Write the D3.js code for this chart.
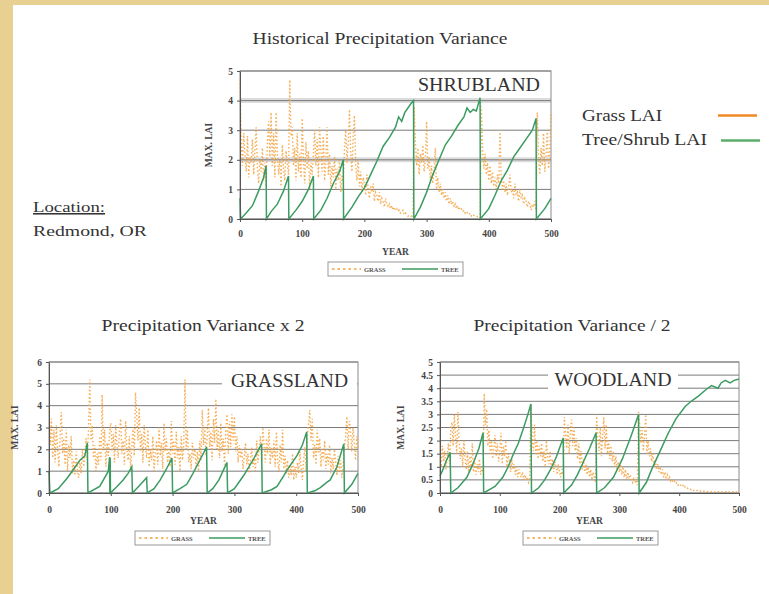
<!DOCTYPE html>
<html><head><meta charset="utf-8">
<script src="https://cdn.jsdelivr.net/npm/d3@7"></script>
<style>body{margin:0;background:#fff}svg{display:block}</style>
</head><body>
<svg id="c" width="769" height="594"></svg>
<script>
// ---------- DATA ----------
const grassYears = d3.range(0, 501, 2);
const xTickValues = [0, 100, 200, 300, 400, 500];

const shrubGrass = [
4.7,2.6,1.8,2.9,2.2,1.6,2.8,1.4,2.1,1.9,2.7,1.5,2.3,3.1,1.7,1.2,2.0,1.6,2.4,1.3,1.9,1.1,2.6,3.3,2.1,
3.6,1.8,2.9,1.4,3.6,2.2,1.5,2.0,1.1,2.5,1.7,1.3,2.3,1.9,1.5,4.7,2.8,3.1,1.8,2.4,1.3,2.9,1.6,2.2,1.4,
3.4,2.0,1.2,2.6,1.7,2.3,1.0,1.9,1.5,2.2,3.0,1.8,2.7,1.4,3.1,2.3,1.6,2.8,1.3,2.0,3.1,1.5,2.2,1.1,1.8,
1.4,2.1,1.0,1.7,1.3,2.0,0.9,1.5,1.2,2.4,3.0,1.9,2.6,3.7,2.2,1.6,2.8,3.5,1.8,1.3,2.0,1.1,1.6,0.9,1.4,
1.2,0.8,1.5,1.0,0.7,1.1,0.9,1.2,0.6,0.9,0.8,0.6,0.9,0.5,0.7,0.6,0.4,0.7,0.5,0.4,0.5,0.35,0.45,0.3,0.4,
0.3,0.35,0.25,0.3,0.2,0.25,0.3,0.15,0.2,0.15,0.1,0.12,0.08,0.1,0.05,3.8,2.6,1.8,2.4,1.5,2.2,1.9,2.5,1.6,2.0,
3.3,1.7,2.1,1.3,1.8,1.2,1.6,2.4,1.0,1.4,0.9,1.2,0.8,1.0,0.7,0.9,0.6,0.8,0.5,0.7,0.5,0.6,0.4,0.5,0.35,
0.45,0.3,0.4,0.35,0.25,0.3,0.2,0.25,0.2,0.15,0.2,0.1,0.15,0.12,0.1,0.1,0.08,0.1,0.05,3.8,2.4,1.7,2.2,1.5,1.9,
1.3,1.8,1.2,1.6,1.1,1.4,1.0,1.5,1.2,3.0,1.4,1.0,1.3,0.9,1.2,0.8,1.1,1.5,0.9,1.0,0.7,1.2,0.8,0.9,0.6,
1.0,0.7,0.8,0.5,0.7,0.6,0.4,0.6,0.5,0.3,0.5,0.4,0.6,0.3,3.6,2.0,1.5,2.4,1.8,2.9,1.6,2.2,3.0,1.7,2.3,
3.6];
const shrubTreeYears  = [0,1,10,20,30,38,42,42.5,50,60,70,78,78.5,90,100,110,118,118.5,130,140,150,160,166,166.5,180,190,200,210,220,230,240,250,255,260,265,270,275,279,279.5,290,300,310,320,330,340,350,360,365,370,375,380,386,386.5,400,410,420,430,440,450,460,470,476,476.5,490,500];
const shrubTreeValues = [0.7,0,0.2,0.45,0.95,1.4,1.8,0,0.25,0.5,0.95,1.45,0,0.3,0.6,1.0,1.45,0,0.3,0.7,1.2,1.6,2.0,0,0.4,0.75,1.05,1.5,1.95,2.45,2.75,3.1,3.45,3.3,3.6,3.75,3.9,4.0,0,0.4,0.9,1.5,2.0,2.5,2.8,3.15,3.45,3.75,3.6,3.7,3.65,4.1,0,0.35,0.8,1.3,1.65,2.1,2.4,2.7,3.0,3.4,0,0.35,0.7];

const grassGrass = [
3.9,2.2,3.4,1.6,2.9,1.4,3.1,2.0,1.2,2.7,3.7,1.8,2.5,1.3,2.9,1.0,2.2,1.6,2.6,0.9,1.5,0.8,1.9,1.1,0.7,
1.4,0.9,2.0,1.2,1.7,2.5,1.5,3.0,5.2,2.4,3.1,1.6,2.2,1.0,1.8,1.3,2.6,1.5,4.5,2.0,2.9,1.2,2.3,1.7,2.8,
3.2,1.9,2.7,1.4,3.1,2.2,1.6,2.9,3.4,1.8,2.4,1.3,3.3,2.0,1.5,2.6,1.1,2.1,3.0,1.7,4.6,3.5,2.4,3.9,1.9,
2.7,1.4,3.1,2.2,1.6,2.9,1.2,2.0,1.5,2.6,1.0,1.8,2.4,1.3,3.0,1.7,2.3,1.1,3.2,1.9,2.5,1.4,2.0,1.2,3.3,
1.8,2.4,1.3,2.8,1.6,2.1,1.0,2.6,1.5,2.2,5.2,2.0,2.9,1.4,1.8,1.1,2.3,1.6,2.0,1.2,1.9,1.0,2.4,1.5,3.8,
2.2,3.0,1.7,2.6,3.9,2.1,2.8,1.5,3.4,2.3,4.3,2.0,2.9,1.6,3.2,1.9,2.5,1.3,2.8,3.6,1.8,3.3,2.1,3.6,2.4,
3.5,1.9,2.6,1.4,2.2,1.6,2.0,1.1,1.7,2.3,1.3,1.8,0.9,1.5,2.1,1.2,1.6,1.0,2.4,1.4,2.0,2.6,1.5,3.0,2.2,
1.4,2.5,1.8,2.9,1.3,2.1,1.6,2.4,1.2,2.8,1.5,1.0,2.2,1.4,2.9,1.1,1.7,0.9,1.5,0.7,1.3,0.8,1.8,0.6,1.2,
0.7,1.4,0.9,1.9,1.1,0.6,1.5,2.1,1.0,2.6,3.2,3.8,2.4,3.4,1.6,2.2,1.3,2.9,1.8,2.5,1.2,2.0,1.5,2.4,1.1,
1.8,1.3,2.2,0.9,1.6,1.1,2.0,1.4,0.8,1.7,1.0,1.5,0.7,1.3,2.1,2.6,3.5,2.0,3.3,2.8,1.9,3.0,2.3,1.5,2.6,
2.0];
const grassTreeYears  = [0,1.5,15,30,40,50,58,62,63,82,92,96,98,98.5,99,99.5,110,120,128,134,135,145,158,159,170,180,190,199,200,212,223,233,244,255,256,265,275,288,289,300,315,330,344,345,360,369,380,385,401,410,417,418,430,439,450,455,466,477,478,490,500];
const grassTreeValues = [1.0,0,0.2,0.7,1.1,1.5,1.7,2.3,0,0.3,0.8,1.0,1.65,0,1.6,0,0.3,0.6,0.9,1.2,0,0.3,0.7,0,0.2,0.6,1.1,1.6,0,0.2,0.4,0.9,1.5,2.1,0,0.2,0.6,1.4,0,0.2,0.8,1.5,2.25,0,0.15,0.3,0.8,1.05,1.7,2.2,2.8,0,0.1,0.25,0.5,0.6,1.2,2.25,0,0.4,0.9];

const woodGrass = [
2.5,1.0,1.8,1.2,1.6,0.9,1.4,1.9,1.1,2.4,2.7,1.8,3.0,2.2,1.5,3.1,2.0,1.3,1.7,1.0,2.0,1.3,0.9,1.6,0.8,
1.4,1.0,1.9,0.8,1.2,0.7,1.1,0.8,1.3,0.7,1.0,0.8,3.8,2.6,3.2,1.8,2.4,1.5,2.0,1.3,1.7,2.2,1.4,1.9,1.2,
1.6,2.3,1.1,1.8,1.4,2.0,1.0,1.5,1.2,0.8,1.3,0.9,1.1,0.7,1.0,0.6,0.9,0.7,0.6,0.8,0.5,0.7,0.5,0.6,0.4,
0.5,3.4,2.2,1.6,2.6,1.5,2.0,1.3,1.8,1.4,1.9,1.2,1.6,1.0,2.0,1.3,1.1,1.6,0.9,1.3,0.8,1.2,1.0,0.7,1.1,
0.8,0.6,0.9,0.7,2.9,2.2,1.7,2.6,1.5,2.3,2.8,1.8,2.5,1.6,2.1,1.3,1.9,1.1,1.6,0.9,1.3,0.8,1.1,0.7,1.0,
0.6,0.9,0.5,0.8,0.6,0.4,3.0,2.1,1.6,2.5,1.4,2.2,2.9,1.7,2.6,1.5,2.0,1.3,1.8,1.2,1.6,1.0,1.4,0.9,1.2,
0.8,1.1,0.7,1.0,0.6,0.9,0.5,0.8,0.6,0.7,0.5,0.4,0.6,0.4,0.5,0.3,3.1,2.6,1.9,2.4,1.6,2.2,3.0,1.5,2.0,
1.4,1.7,1.2,1.5,1.0,1.3,0.9,1.1,0.8,1.0,0.7,0.9,0.6,0.8,0.6,0.7,0.5,0.6,0.45,0.5,0.4,0.45,0.35,0.4,0.3,
0.35,0.3,0.25,0.3,0.2,0.25,0.2,0.18,0.15,0.17,0.12,0.14,0.1,0.12,0.09,0.1,0.08,0.09,0.07,0.08,0.06,0.07,0.06,0.05,0.06,
0.05,0.04,0.05,0.04,0.05,0.04,0.05,0.04,0.05,0.04,0.05,0.04,0.05,0.04,0.05,0.04,0.05,0.04,0.05,0.04,0.05,0.04,0.05,0.04,0.05,
0.05];
const woodTreeYears  = [0,5,10,17,18,30,45,55,65,72,73,92,105,114,122,131,140,147,152,153,165,175,185,195,206,207,220,230,240,250,261,262,275,290,305,320,332,333,345,354,368,382,395,410,420,432,445,454,465,470,477,485,492,500];
const woodTreeValues = [0.65,0.9,1.2,1.55,0,0.2,0.6,1.1,1.7,2.3,0,0.25,0.6,1.0,1.45,1.9,2.5,3.0,3.4,0,0.2,0.5,0.9,1.4,2.1,0,0.3,0.7,1.2,1.7,2.3,0,0.2,0.6,1.3,2.2,3.0,0,0.4,0.9,1.6,2.3,2.85,3.3,3.5,3.7,3.95,4.1,4.0,4.2,4.3,4.2,4.3,4.35];

const shrubYTicks = [0,1,2,3,4,5];
const grassYTicks = [0,1,2,3,4,5,6];
const woodYTicks  = [0,0.5,1,1.5,2,2.5,3,3.5,4,4.5,5];

// ---------- DRAW ----------
const SERIF = "'Liberation Serif','Times New Roman',serif";
const ORANGE = "#f5a03a", GREEN = "#3b9b61";
const svg = d3.select('#c');
svg.append('rect').attr('width',769).attr('height',594).attr('fill','#e8cf92');
svg.append('rect').attr('x',13).attr('y',5).attr('width',756).attr('height',589).attr('fill','#fff');

function wideText(x, y, str, size, width, anchor) {
  return svg.append('text').attr('x', x).attr('y', y).attr('text-anchor', anchor || 'start')
    .attr('font-family', SERIF).attr('font-size', size).attr('fill', '#333')
    .attr('textLength', width).attr('lengthAdjust', 'spacingAndGlyphs').text(str);
}

function drawChart(c) {
  const x = d3.scaleLinear().domain([0,500]).range([c.left, c.right]);
  const y = d3.scaleLinear().domain([0, c.yMax]).range([c.bottom, c.top]);
  const g = svg.append('g');
  wideText(c.titleX, c.titleY, c.title, 16.5, c.titleW, 'middle');
  // grid
  c.yTicks.forEach(t => {
    if (c.bands && c.bands.includes(t)) {
      g.append('line').attr('x1',c.left).attr('x2',c.right).attr('y1',y(t)).attr('y2',y(t))
        .attr('stroke','#dcdcdc').attr('stroke-width',5);
    }
    g.append('line').attr('x1',c.left).attr('x2',c.right).attr('y1',y(t)).attr('y2',y(t))
      .attr('stroke','#7a7a7a').attr('stroke-width',1);
  });
  g.append('rect').attr('x',c.left).attr('y',c.top).attr('width',c.right-c.left).attr('height',c.bottom-c.top)
    .attr('fill','none').attr('stroke','#8a8a8a').attr('stroke-width',1);
  // label box
  g.append('rect').attr('x',c.boxX).attr('y',c.boxY).attr('width',c.boxW).attr('height',c.boxH).attr('fill','#fff');
  g.append('text').attr('x', c.boxX + c.boxW/2).attr('y', c.labelY).attr('text-anchor','middle')
    .attr('font-family', SERIF).attr('font-size', 19).attr('fill','#333')
    .attr('textLength', c.labelW).attr('lengthAdjust','spacingAndGlyphs').text(c.label);
  // series
  const grassLine = d3.line().x((d,i)=>x(grassYears[i])).y(d=>y(d));
  g.append('path').attr('d', grassLine(c.grass)).attr('fill','none').attr('stroke',ORANGE)
    .attr('stroke-width',1.4).attr('stroke-dasharray','1.5,2.2').attr('opacity',0.85);
  const treeLine = d3.line().x((d,i)=>x(c.treeX[i])).y(d=>y(d));
  g.append('path').attr('d', treeLine(c.treeY)).attr('fill','none').attr('stroke',GREEN).attr('stroke-width',1.5);
  // axes
  const ya = g.append('g').attr('transform',`translate(${c.left},0)`)
    .call(d3.axisLeft(y).tickValues(c.yTicks).tickSize(3).tickPadding(4).tickSizeOuter(0).tickFormat(d3.format('')));
  const xa = g.append('g').attr('transform',`translate(0,${c.bottom})`)
    .call(d3.axisBottom(x).tickValues(xTickValues).tickSize(3).tickPadding(c.xPad).tickSizeOuter(0));
  [ya, xa].forEach(a => {
    a.selectAll('path,line').attr('stroke','#555');
    a.selectAll('text').attr('font-family',SERIF).attr('font-size',9.5).attr('font-weight','bold').attr('fill','#444');
  });
  // axis titles
  g.append('text').attr('x',(c.left+c.right)/2).attr('y',c.yearY).attr('text-anchor','middle')
    .attr('font-family',SERIF).attr('font-size',9.5).attr('font-weight','bold').attr('fill','#444').text('YEAR');
  g.append('text').attr('transform',`translate(${c.yTitleX},${(c.top+c.bottom)/2}) rotate(-90)`)
    .attr('text-anchor','middle').attr('font-family',SERIF).attr('font-size',9.5).attr('font-weight','bold')
    .attr('fill','#444').text('MAX. LAI');
  // legend box
  const lx = c.legX, ly = c.legY;
  g.append('rect').attr('x',lx).attr('y',ly).attr('width',135).attr('height',14)
    .attr('fill','#fff').attr('stroke','#999').attr('stroke-width',1);
  g.append('line').attr('x1',lx+4).attr('x2',lx+33).attr('y1',ly+7).attr('y2',ly+7)
    .attr('stroke',ORANGE).attr('stroke-width',1.5).attr('stroke-dasharray','2.5,3');
  g.append('text').attr('x',lx+36).attr('y',ly+9.5).attr('font-family',SERIF).attr('font-size',6.5)
    .attr('font-weight','bold').attr('fill','#555').text('GRASS');
  g.append('line').attr('x1',lx+74).attr('x2',lx+110).attr('y1',ly+7).attr('y2',ly+7)
    .attr('stroke',GREEN).attr('stroke-width',1.3);
  g.append('text').attr('x',lx+113).attr('y',ly+9.5).attr('font-family',SERIF).attr('font-size',6.5)
    .attr('font-weight','bold').attr('fill','#555').text('TREE');
}

drawChart({title:'Historical Precipitation Variance', titleX:380, titleY:44, titleW:255,
  left:240, right:551, top:71, bottom:219, yMax:5, yTicks:shrubYTicks, bands:[2,4],
  label:'SHRUBLAND', labelW:122, boxX:414, boxY:73, boxW:130, boxH:22, labelY:91,
  grass:shrubGrass, treeX:shrubTreeYears, treeY:shrubTreeValues, yTitleX:212, legX:328, legY:262,
  xPad:8, yearY:255});
drawChart({title:'Precipitation Variance x 2', titleX:203, titleY:331, titleW:203,
  left:49, right:358, top:362, bottom:493, yMax:6, yTicks:grassYTicks,
  label:'GRASSLAND', labelW:117, boxX:222, boxY:367, boxW:135, boxH:24, labelY:387,
  grass:grassGrass, treeX:grassTreeYears, treeY:grassTreeValues, yTitleX:18, legX:135, legY:531,
  xPad:10, yearY:524});
drawChart({title:'Precipitation Variance / 2', titleX:572, titleY:331, titleW:197,
  left:440, right:739, top:362, bottom:493, yMax:5, yTicks:woodYTicks,
  label:'WOODLAND', labelW:117, boxX:548, boxY:366, boxW:130, boxH:26, labelY:386,
  grass:woodGrass, treeX:woodTreeYears, treeY:woodTreeValues, yTitleX:404, legX:523, legY:531,
  xPad:10, yearY:524});

// side texts
wideText(33, 212, 'Location:', 15.5, 72).attr('text-decoration','underline');
wideText(33, 236, 'Redmond, OR', 15.5, 114);
wideText(582, 121, 'Grass LAI', 16.5, 80);
wideText(582, 145, 'Tree/Shrub LAI', 16.5, 125);
svg.append('line').attr('x1',718).attr('x2',757).attr('y1',115.5).attr('y2',115.5).attr('stroke','#f08a24').attr('stroke-width',2.5);
svg.append('line').attr('x1',721).attr('x2',760).attr('y1',140.5).attr('y2',140.5).attr('stroke','#5aad6a').attr('stroke-width',2.5);
</script>
</body></html>
